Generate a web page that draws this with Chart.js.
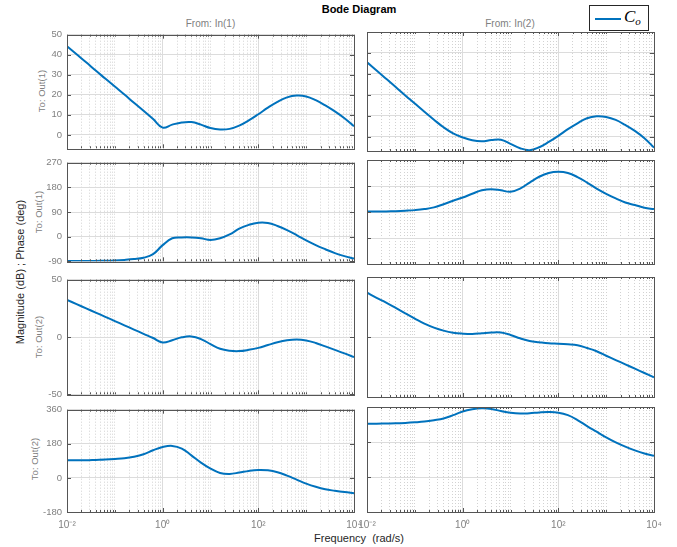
<!DOCTYPE html>
<html><head><meta charset="utf-8">
<script src="https://cdn.jsdelivr.net/npm/chart.js@4.4.0/dist/chart.umd.min.js"></script>
<style>
body{margin:0;background:#fff;width:677px;height:547px;position:relative;overflow:hidden;font-family:"Liberation Sans",Arial,sans-serif;}
canvas{position:absolute;}
.lbl{position:absolute;white-space:nowrap;line-height:1;}
.rot{position:absolute;white-space:nowrap;line-height:1;transform:translate(-50%,-50%) rotate(-90deg);}
</style></head><body>
<div class="lbl" style="left:0;width:718px;top:4px;text-align:center;font-weight:bold;font-size:11px;color:#000">Bode Diagram</div>
<div class="lbl" style="left:110px;width:201px;top:19px;text-align:center;font-size:10px;color:#808080">From: In(1)</div>
<div class="lbl" style="left:410px;width:200px;top:19px;text-align:center;font-size:10px;color:#808080">From: In(2)</div>
<div class="lbl" style="left:259px;width:200px;top:533px;text-align:center;font-size:11px;color:#262626">Frequency &nbsp;(rad/s)</div>
<div class="rot" style="left:20px;top:272px;font-size:11px;color:#262626">Magnitude (dB) ; Phase (deg)</div>
<div class="rot" style="left:42px;top:91px;font-size:9.5px;color:#808080">To: Out(1)</div>
<div class="rot" style="left:39px;top:212px;font-size:9.5px;color:#808080">To: Out(1)</div>
<div class="rot" style="left:39px;top:337px;font-size:9.5px;color:#808080">To: Out(2)</div>
<div class="rot" style="left:35px;top:459px;font-size:9.5px;color:#808080">To: Out(2)</div>
<div style="position:absolute;left:589px;top:5px;width:58px;height:24px;border:1px solid #262626;background:#fff;">
  <div style="position:absolute;left:5px;top:12px;width:26px;height:2px;background:#0072BD"></div>
  <div style="position:absolute;left:34px;top:2px;font-family:'Liberation Serif','DejaVu Serif',serif;font-style:italic;font-size:17px;line-height:1;color:#000">C<span style="font-size:11px;position:relative;top:3px">o</span></div>
</div>
<canvas id="c11"></canvas><canvas id="c12"></canvas>
<canvas id="p11"></canvas><canvas id="p12"></canvas>
<canvas id="c21"></canvas><canvas id="c22"></canvas>
<canvas id="p21"></canvas><canvas id="p22"></canvas>
<script>
// frequency samples (rad/s)
const freq = [0.01, 0.01585, 0.02512, 0.03981, 0.0631, 0.1, 0.1585, 0.2512, 0.3981, 0.631,
  1, 1.585, 2.512, 3.981, 6.31, 10, 15.85, 25.12, 39.81, 63.1,
  100, 158.5, 251.2, 398.1, 631, 1000, 1585, 2512, 3981, 6310, 10000];
// Out(1) <- In(1)
const mag11 = [44.2, 40.2, 36.2, 32.1, 28.1, 24.1, 20.1, 16.0, 12.0, 7.9,
  3.6, 5.1, 6.2, 6.4, 5.1, 3.4, 2.7, 3.0, 4.6, 7.2,
  10.3, 13.6, 16.5, 18.7, 19.6, 19.2, 17.3, 14.7, 11.7, 8.3, 4.3];
const phase11 = [-89, -89, -89, -88.5, -88, -87, -85, -82, -77, -64,
  -31, -6, -3, -3, -6, -12, -6, 8, 29, 43,
  51, 50, 39, 24, 6, -14, -31, -46, -60, -71, -80];
// Out(1) <- In(2)
const mag12 = [35.6, 31.6, 27.7, 23.8, 19.8, 15.9, 12.0, 8.2, 4.6, 1.7,
  -0.2, -1.6, -2.1, -1.5, -1.3, -3.3, -5.4, -6.3, -4.9, -2.4,
  0.5, 3.7, 6.5, 8.9, 9.8, 9.5, 8.1, 5.7, 2.9, -0.6, -5.1];
const phase12 = [91.5, 91.5, 92, 93, 94.5, 96.5, 100, 106, 117, 129,
  140, 153, 165, 169, 165, 160, 171, 192, 212, 225,
  229, 225, 211, 192, 171, 153, 137, 123, 114, 105, 100];
// Out(2) <- In(1)
const mag21 = [32.4, 28.7, 25.0, 21.3, 17.6, 13.9, 10.2, 6.5, 2.8, -0.9,
  -4.8, -2.8, -0.3, 0.5, -1.8, -6.2, -10.3, -12.0, -12.3, -11.2,
  -9.5, -7.0, -4.6, -2.9, -2.2, -3.0, -5.2, -8.2, -11.2, -14.3, -17.6];
const phase21 = [93, 93, 93, 95, 97, 100, 104, 112, 125, 146,
  163, 169, 155, 119, 81, 49, 26, 21, 28, 37,
  42, 40, 30, 12, -9, -30, -47, -60, -68, -75, -81];
// Out(2) <- In(2)
const mag22 = [36.9, 32.6, 28.6, 24.2, 19.7, 15.3, 11.1, 7.8, 5.3, 3.6,
  2.8, 2.5, 3.1, 3.7, 3.7, 1.7, -1.1, -3.3, -4.4, -5.3,
  -5.6, -6.1, -6.9, -9.2, -11.9, -15.6, -19.2, -22.8, -26.4, -30.0, -33.6];
const phase22 = [274, 274, 275, 276, 278, 281, 285, 292, 301, 318,
  337, 348, 353, 350, 339, 330, 326, 328, 332, 334,
  331, 318, 293, 262, 233, 204, 178, 156, 137, 121, 109];

// tick labels
const xTickValues = [0.01, 1, 100, 10000];
const xTickLabels = ['10\u207B\u00B2', '10\u2070', '10\u00B2', '10\u2074'];
const magTicksOut1 = [0, 10, 20, 30, 40, 50];
const phaseTicksOut1 = [-90, 0, 90, 180, 270];
const magTicksOut2 = [-50, 0, 50];
const phaseTicksOut2 = [-180, 0, 180, 360];

const xGridValues = [];
for (let e = -2; e <= 3; e++) for (let k = 1; k <= 9; k++) xGridValues.push(k * Math.pow(10, e));
xGridValues.push(10000);

function sameLog(a, b) { return Math.abs(Math.log10(a) - Math.log10(b)) < 1e-6; }
function isMajor(v) { return xTickValues.some(t => sameLog(t, v)); }

const framePlugin = {
  id: 'frame',
  afterDraw(chart) {
    const ctx = chart.ctx, a = chart.chartArea;
    ctx.save();
    ctx.strokeStyle = '#555555';
    ctx.lineWidth = 1;
    ctx.beginPath();
    chart.scales.x.ticks.forEach(t => {
      const px = Math.round(chart.scales.x.getPixelForValue(t.value)) + 0.5;
      const len = isMajor(t.value) ? 4 : 2;
      ctx.moveTo(px, a.bottom); ctx.lineTo(px, a.bottom - len);
      ctx.moveTo(px, a.top); ctx.lineTo(px, a.top + len);
    });
    chart.scales.y.ticks.forEach(t => {
      const py = Math.round(chart.scales.y.getPixelForValue(t.value)) + 0.5;
      ctx.moveTo(a.left, py); ctx.lineTo(a.left + 4, py);
      ctx.moveTo(a.right, py); ctx.lineTo(a.right - 4, py);
    });
    ctx.stroke();
    ctx.strokeRect(Math.round(a.left) + 0.5, Math.round(a.top) + 0.5, Math.round(a.right - a.left), Math.round(a.bottom - a.top));
    ctx.restore();
  }
};

const rowBounds = [[32, 151], [160, 264], [277, 397], [407, 512]];

function makePanel(id, series, yMin, yMax, yTicks, col, row) {
  const [top, bottom] = rowBounds[row];
  const isBottom = row === 3;
  const padTop = 8, padBottom = isBottom ? 0 : 8, xAxisH = isBottom ? 26 : 0;
  const left = col === 0 ? 0 : 340, width = col === 0 ? 372 : 337;
  const yAxisW = col === 0 ? 67 : 27;
  const plotRight = col === 0 ? 354 : 654;
  const padRight = left + width - plotRight;
  const cv = document.getElementById(id);
  cv.width = width;
  cv.height = (bottom - top) + padTop + padBottom + xAxisH;
  cv.style.left = left + 'px';
  cv.style.top = (top - padTop) + 'px';
  new Chart(cv, {
    type: 'line',
    data: { datasets: [{
      label: 'C_o',
      data: freq.map((f, i) => ({ x: f, y: series[i] })),
      borderColor: '#0072BD', borderWidth: 2, pointRadius: 0,
      tension: 0.4, fill: false
    }] },
    options: {
      responsive: false, animation: false, devicePixelRatio: 1,
      layout: { padding: { top: padTop, bottom: padBottom, left: 0, right: padRight } },
      plugins: { legend: { display: false }, tooltip: { enabled: false } },
      scales: {
        x: {
          type: 'logarithmic', min: 0.01, max: 10000,
          afterBuildTicks: s => { s.ticks = xGridValues.map(v => ({ value: v })); },
          afterFit: s => { s.height = xAxisH; },
          grid: { drawTicks: false, lineWidth: 1,
            color: c => (c.tick && isMajor(c.tick.value)) ? '#dcdcdc' : '#d2d2d2' },
          border: { display: false, dash: c => (c.tick && isMajor(c.tick.value)) ? [] : [1, 2] },
          ticks: {
            display: isBottom, autoSkip: false, maxRotation: 0, minRotation: 0, padding: 7,
            color: '#808080', font: { family: 'Liberation Sans', size: 10 },
            callback: v => { const i = xTickValues.findIndex(t => sameLog(t, v)); return i >= 0 ? xTickLabels[i] : ''; }
          }
        },
        y: {
          type: 'linear', min: yMin, max: yMax,
          afterBuildTicks: s => { s.ticks = yTicks.map(v => ({ value: v })); },
          afterFit: s => { s.width = yAxisW; },
          grid: { drawTicks: false, color: '#dcdcdc', lineWidth: 1 },
          border: { display: false },
          ticks: { display: col === 0, padding: 5, color: '#808080', font: { family: 'Liberation Sans', size: 9.5 } }
        }
      }
    },
    plugins: [framePlugin]
  });
}

makePanel('c11', mag11, -6.7, 50, magTicksOut1, 0, 0);
makePanel('c12', mag12, -6.7, 50, magTicksOut1, 1, 0);
makePanel('p11', phase11, -90, 270, phaseTicksOut1, 0, 1);
makePanel('p12', phase12, -90, 270, phaseTicksOut1, 1, 1);
makePanel('c21', mag21, -50, 50, magTicksOut2, 0, 2);
makePanel('c22', mag22, -50, 50, magTicksOut2, 1, 2);
makePanel('p21', phase21, -180, 360, phaseTicksOut2, 0, 3);
makePanel('p22', phase22, -180, 360, phaseTicksOut2, 1, 3);
</script>
</body></html>
